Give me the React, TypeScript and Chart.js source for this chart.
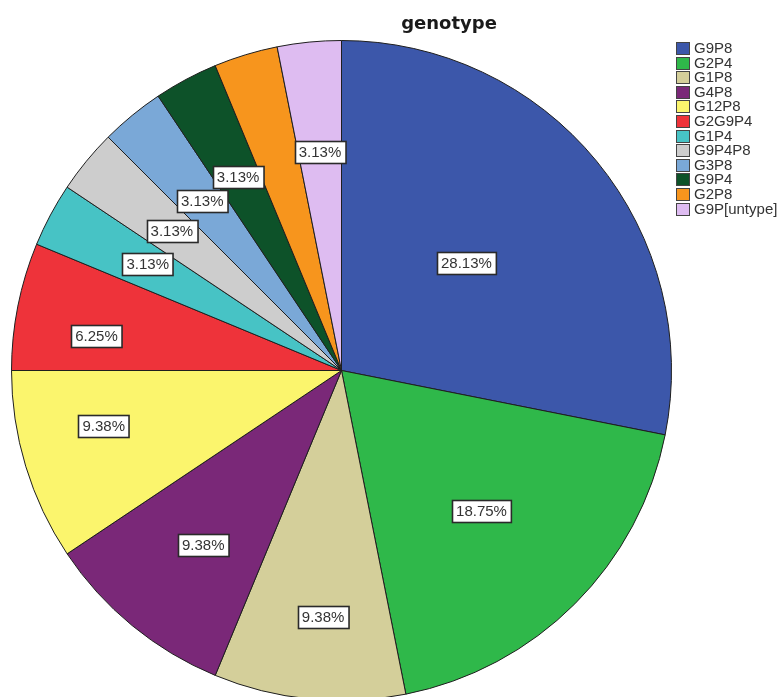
import React, { useEffect, useRef } from "react";
import { Chart, registerables } from "chart.js";

Chart.register(...registerables);

const title = "genotype";
const categories = [
  "G9P8", "G2P4", "G1P8", "G4P8", "G12P8", "G2G9P4",
  "G1P4", "G9P4P8", "G3P8", "G9P4", "G2P8", "G9P[untype]",
];
const counts = [9, 6, 3, 3, 3, 2, 1, 1, 1, 1, 1, 1];
const colors = [
  "#3C57AA", "#2FB84A", "#D4CF9A", "#7A2878", "#FBF56D", "#EE333A",
  "#47C3C5", "#CDCDCD", "#7AA8D7", "#0D5229", "#F7951D", "#DEBCF1",
];
// which slices show a percentage box (SPSS hid the overlapping one)
const showLabel = [true, true, true, true, true, true, true, true, true, true, false, true];
// label distance from centre as a fraction of radius
const labelRadius = [0.5, 0.6, 0.75, 0.675, 0.74, 0.75, 0.67, 0.665, 0.665, 0.665, 0.665, 0.665];
// label angle as a fraction across the slice
const labelAngle = [0.486, 0.5, 0.46, 0.47, 0.61, 0.36, 0.56, 0.5, 0.5, 0.5, 0.5, 0.5];

const total = counts.reduce((a, b) => a + b, 0);
const pctLabels = counts.map((c) => ((c / total) * 100).toFixed(2) + "%");

const overlayPlugin = {
  id: "overlay",
  afterDatasetsDraw(chart: any) {
    const ctx = chart.ctx as CanvasRenderingContext2D;
    const meta = chart.getDatasetMeta(0);
    ctx.save();
    // percentage boxes
    ctx.font = "15px 'Liberation Sans', Arial, sans-serif";
    ctx.textAlign = "center";
    ctx.textBaseline = "middle";
    meta.data.forEach((arc: any, i: number) => {
      if (!showLabel[i]) return;
      const mid = arc.startAngle + (arc.endAngle - arc.startAngle) * labelAngle[i];
      const r = arc.outerRadius * labelRadius[i];
      const x = arc.x + Math.cos(mid) * r;
      const y = arc.y + Math.sin(mid) * r;
      const text = pctLabels[i];
      const w = ctx.measureText(text).width + 8;
      const h = 22;
      const bx = Math.round(x - w / 2) + 0.5;
      const by = Math.round(y - h / 2) + 0.5;
      ctx.fillStyle = "#ffffff";
      ctx.fillRect(bx, by, w, h);
      ctx.strokeStyle = "#2a2a2a";
      ctx.lineWidth = 1.6;
      ctx.strokeRect(bx, by, w, h);
      ctx.fillStyle = "#333333";
      ctx.fillText(text, x, y + 1);
    });
    // title
    ctx.font = "bold 18px 'DejaVu Sans', sans-serif";
    ctx.fillStyle = "#1a1a1a";
    ctx.textBaseline = "alphabetic";
    ctx.fillText(title, 449, 29);
    // legend
    ctx.font = "15px 'Liberation Sans', Arial, sans-serif";
    ctx.textAlign = "left";
    ctx.textBaseline = "middle";
    categories.forEach((label, i) => {
      const y = 42 + i * 14.6;
      ctx.fillStyle = colors[i];
      ctx.fillRect(676.5, Math.round(y) + 0.5, 13, 12);
      ctx.strokeStyle = "#444444";
      ctx.lineWidth = 1;
      ctx.strokeRect(676.5, Math.round(y) + 0.5, 13, 12);
      ctx.fillStyle = "#333333";
      ctx.fillText(label, 694, Math.round(y) + 7);
    });
    ctx.restore();
  },
};

export default function App() {
  const ref = useRef<HTMLCanvasElement | null>(null);
  useEffect(() => {
    if (!ref.current) return;
    const chart = new Chart(ref.current, {
      type: "pie",
      data: {
        labels: categories,
        datasets: [
          {
            data: counts,
            backgroundColor: colors,
            borderColor: "#1e1e1e",
            borderWidth: 1,
          },
        ],
      },
      options: {
        responsive: false,
        animation: false,
        layout: { padding: { left: 11, top: 40, right: 106, bottom: 1 } },
        plugins: {
          legend: { display: false },
          title: { display: false },
          tooltip: { enabled: false },
        },
      },
      plugins: [overlayPlugin],
    });
    return () => chart.destroy();
  }, []);
  return (
    <div
      style={{
        position: "fixed",
        left: 0,
        top: 0,
        width: 778,
        height: 697,
        overflow: "hidden",
        background: "#fff",
      }}
    >
      <canvas ref={ref} width={778} height={702} style={{ width: 778, height: 702, display: "block" }} />
    </div>
  );
}
